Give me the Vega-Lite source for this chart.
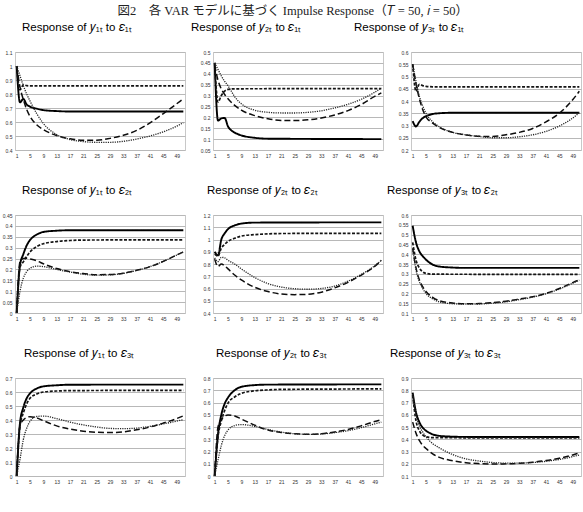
{
  "$schema": "https://vega.github.io/schema/vega-lite/v6.json",
  "padding": {"left": 1, "top": 4, "right": 0, "bottom": 0},
  "bounds": "flush",
  "title": {
    "text": "図2　各 VAR モデルに基づく Impulse Response（𝑇 = 50, 𝑖 = 50）",
    "font": "Liberation Serif, Noto Sans CJK JP",
    "fontSize": 12.5,
    "fontWeight": "normal",
    "color": "#222222",
    "anchor": "middle",
    "frame": "bounds",
    "offset": 4
  },
  "config": {
    "view": {"stroke": "#c8c8c8", "strokeWidth": 1},
    "axis": {
      "labelFont": "Liberation Sans",
      "labelFontSize": 5,
      "labelColor": "#333333",
      "ticks": false,
      "domain": false,
      "title": null,
      "labelPadding": 3
    },
    "axisX": {"grid": false},
    "axisY": {"grid": true, "gridColor": "#b8b8b8", "gridWidth": 1},
    "title": {
      "font": "Liberation Sans",
      "fontSize": 11.5,
      "fontWeight": "normal",
      "color": "#000000",
      "anchor": "start",
      "frame": "group",
      "offset": 17
    },
    "line": {"interpolate": "monotone"}
  },
  "resolve": {"scale": {"x": "independent", "y": "independent"}},
  "spacing": {"row": 65, "column": 28},
  "columns": 3,
  "data": {
    "values": [
      {"p":"11","s":"A","t":1,"v":1.0},{"p":"11","s":"A","t":2,"v":0.74},{"p":"11","s":"A","t":3,"v":0.765},{"p":"11","s":"A","t":4,"v":0.725},{"p":"11","s":"A","t":5,"v":0.71},{"p":"11","s":"A","t":7,"v":0.695},{"p":"11","s":"A","t":9,"v":0.685},{"p":"11","s":"A","t":13,"v":0.678},{"p":"11","s":"A","t":17,"v":0.675},{"p":"11","s":"A","t":51,"v":0.675},
      {"p":"11","s":"B","t":1,"v":1.0},{"p":"11","s":"B","t":2,"v":0.83},{"p":"11","s":"B","t":3,"v":0.865},{"p":"11","s":"B","t":4,"v":0.86},{"p":"11","s":"B","t":5,"v":0.858},{"p":"11","s":"B","t":51,"v":0.858},
      {"p":"11","s":"C","t":1,"v":1.0},{"p":"11","s":"C","t":2,"v":0.85},{"p":"11","s":"C","t":3,"v":0.76},{"p":"11","s":"C","t":4,"v":0.69},{"p":"11","s":"C","t":5,"v":0.64},{"p":"11","s":"C","t":7,"v":0.58},{"p":"11","s":"C","t":9,"v":0.546},{"p":"11","s":"C","t":13,"v":0.503},{"p":"11","s":"C","t":17,"v":0.48},{"p":"11","s":"C","t":21,"v":0.47},{"p":"11","s":"C","t":25,"v":0.47},{"p":"11","s":"C","t":29,"v":0.483},{"p":"11","s":"C","t":33,"v":0.505},{"p":"11","s":"C","t":37,"v":0.54},{"p":"11","s":"C","t":41,"v":0.594},{"p":"11","s":"C","t":45,"v":0.66},{"p":"11","s":"C","t":49,"v":0.73},{"p":"11","s":"C","t":51,"v":0.765},
      {"p":"11","s":"D","t":1,"v":1.0},{"p":"11","s":"D","t":2,"v":0.93},{"p":"11","s":"D","t":3,"v":0.86},{"p":"11","s":"D","t":4,"v":0.8},{"p":"11","s":"D","t":5,"v":0.75},{"p":"11","s":"D","t":7,"v":0.66},{"p":"11","s":"D","t":9,"v":0.59},{"p":"11","s":"D","t":13,"v":0.51},{"p":"11","s":"D","t":17,"v":0.475},{"p":"11","s":"D","t":21,"v":0.46},{"p":"11","s":"D","t":25,"v":0.455},{"p":"11","s":"D","t":29,"v":0.455},{"p":"11","s":"D","t":33,"v":0.462},{"p":"11","s":"D","t":37,"v":0.478},{"p":"11","s":"D","t":41,"v":0.5},{"p":"11","s":"D","t":45,"v":0.53},{"p":"11","s":"D","t":49,"v":0.57},{"p":"11","s":"D","t":51,"v":0.595},

      {"p":"12","s":"A","t":1,"v":0.45},{"p":"12","s":"A","t":2,"v":0.185},{"p":"12","s":"A","t":3,"v":0.195},{"p":"12","s":"A","t":4,"v":0.197},{"p":"12","s":"A","t":5,"v":0.158},{"p":"12","s":"A","t":6,"v":0.14},{"p":"12","s":"A","t":7,"v":0.13},{"p":"12","s":"A","t":9,"v":0.117},{"p":"12","s":"A","t":11,"v":0.11},{"p":"12","s":"A","t":13,"v":0.106},{"p":"12","s":"A","t":17,"v":0.102},{"p":"12","s":"A","t":51,"v":0.1},
      {"p":"12","s":"B","t":1,"v":0.45},{"p":"12","s":"B","t":2,"v":0.27},{"p":"12","s":"B","t":3,"v":0.3},{"p":"12","s":"B","t":4,"v":0.32},{"p":"12","s":"B","t":5,"v":0.328},{"p":"12","s":"B","t":7,"v":0.331},{"p":"12","s":"B","t":51,"v":0.332},
      {"p":"12","s":"C","t":1,"v":0.44},{"p":"12","s":"C","t":2,"v":0.37},{"p":"12","s":"C","t":3,"v":0.33},{"p":"12","s":"C","t":4,"v":0.305},{"p":"12","s":"C","t":5,"v":0.285},{"p":"12","s":"C","t":7,"v":0.255},{"p":"12","s":"C","t":9,"v":0.233},{"p":"12","s":"C","t":13,"v":0.208},{"p":"12","s":"C","t":17,"v":0.193},{"p":"12","s":"C","t":21,"v":0.186},{"p":"12","s":"C","t":25,"v":0.185},{"p":"12","s":"C","t":29,"v":0.189},{"p":"12","s":"C","t":33,"v":0.197},{"p":"12","s":"C","t":37,"v":0.211},{"p":"12","s":"C","t":41,"v":0.231},{"p":"12","s":"C","t":45,"v":0.259},{"p":"12","s":"C","t":49,"v":0.296},{"p":"12","s":"C","t":51,"v":0.312},
      {"p":"12","s":"D","t":1,"v":0.45},{"p":"12","s":"D","t":2,"v":0.42},{"p":"12","s":"D","t":3,"v":0.39},{"p":"12","s":"D","t":4,"v":0.365},{"p":"12","s":"D","t":5,"v":0.345},{"p":"12","s":"D","t":7,"v":0.295},{"p":"12","s":"D","t":9,"v":0.262},{"p":"12","s":"D","t":13,"v":0.233},{"p":"12","s":"D","t":17,"v":0.223},{"p":"12","s":"D","t":21,"v":0.22},{"p":"12","s":"D","t":25,"v":0.22},{"p":"12","s":"D","t":29,"v":0.223},{"p":"12","s":"D","t":33,"v":0.23},{"p":"12","s":"D","t":37,"v":0.243},{"p":"12","s":"D","t":41,"v":0.26},{"p":"12","s":"D","t":45,"v":0.283},{"p":"12","s":"D","t":49,"v":0.315},{"p":"12","s":"D","t":51,"v":0.335},

      {"p":"13","s":"A","t":1,"v":0.318},{"p":"13","s":"A","t":2,"v":0.296},{"p":"13","s":"A","t":3,"v":0.315},{"p":"13","s":"A","t":4,"v":0.33},{"p":"13","s":"A","t":5,"v":0.338},{"p":"13","s":"A","t":7,"v":0.347},{"p":"13","s":"A","t":9,"v":0.35},{"p":"13","s":"A","t":13,"v":0.352},{"p":"13","s":"A","t":51,"v":0.352},
      {"p":"13","s":"B","t":1,"v":0.55},{"p":"13","s":"B","t":2,"v":0.44},{"p":"13","s":"B","t":3,"v":0.468},{"p":"13","s":"B","t":4,"v":0.463},{"p":"13","s":"B","t":5,"v":0.46},{"p":"13","s":"B","t":7,"v":0.458},{"p":"13","s":"B","t":51,"v":0.458},
      {"p":"13","s":"C","t":1,"v":0.55},{"p":"13","s":"C","t":2,"v":0.47},{"p":"13","s":"C","t":3,"v":0.41},{"p":"13","s":"C","t":4,"v":0.365},{"p":"13","s":"C","t":5,"v":0.335},{"p":"13","s":"C","t":7,"v":0.31},{"p":"13","s":"C","t":9,"v":0.292},{"p":"13","s":"C","t":13,"v":0.272},{"p":"13","s":"C","t":17,"v":0.261},{"p":"13","s":"C","t":21,"v":0.256},{"p":"13","s":"C","t":25,"v":0.255},{"p":"13","s":"C","t":29,"v":0.262},{"p":"13","s":"C","t":33,"v":0.272},{"p":"13","s":"C","t":37,"v":0.288},{"p":"13","s":"C","t":41,"v":0.315},{"p":"13","s":"C","t":45,"v":0.35},{"p":"13","s":"C","t":49,"v":0.405},{"p":"13","s":"C","t":51,"v":0.44},
      {"p":"13","s":"D","t":1,"v":0.55},{"p":"13","s":"D","t":2,"v":0.48},{"p":"13","s":"D","t":3,"v":0.42},{"p":"13","s":"D","t":4,"v":0.38},{"p":"13","s":"D","t":5,"v":0.35},{"p":"13","s":"D","t":7,"v":0.315},{"p":"13","s":"D","t":9,"v":0.295},{"p":"13","s":"D","t":13,"v":0.272},{"p":"13","s":"D","t":17,"v":0.262},{"p":"13","s":"D","t":21,"v":0.255},{"p":"13","s":"D","t":25,"v":0.25},{"p":"13","s":"D","t":29,"v":0.25},{"p":"13","s":"D","t":33,"v":0.254},{"p":"13","s":"D","t":37,"v":0.262},{"p":"13","s":"D","t":41,"v":0.276},{"p":"13","s":"D","t":45,"v":0.298},{"p":"13","s":"D","t":49,"v":0.33},{"p":"13","s":"D","t":51,"v":0.352},

      {"p":"21","s":"A","t":1,"v":0},{"p":"21","s":"A","t":2,"v":0.22},{"p":"21","s":"A","t":3,"v":0.27},{"p":"21","s":"A","t":4,"v":0.31},{"p":"21","s":"A","t":5,"v":0.335},{"p":"21","s":"A","t":6,"v":0.35},{"p":"21","s":"A","t":7,"v":0.36},{"p":"21","s":"A","t":9,"v":0.372},{"p":"21","s":"A","t":13,"v":0.378},{"p":"21","s":"A","t":17,"v":0.38},{"p":"21","s":"A","t":51,"v":0.38},
      {"p":"21","s":"B","t":1,"v":0},{"p":"21","s":"B","t":2,"v":0.21},{"p":"21","s":"B","t":3,"v":0.235},{"p":"21","s":"B","t":4,"v":0.26},{"p":"21","s":"B","t":5,"v":0.28},{"p":"21","s":"B","t":7,"v":0.305},{"p":"21","s":"B","t":9,"v":0.318},{"p":"21","s":"B","t":13,"v":0.328},{"p":"21","s":"B","t":17,"v":0.333},{"p":"21","s":"B","t":21,"v":0.335},{"p":"21","s":"B","t":51,"v":0.336},
      {"p":"21","s":"C","t":1,"v":0},{"p":"21","s":"C","t":2,"v":0.235},{"p":"21","s":"C","t":3,"v":0.25},{"p":"21","s":"C","t":4,"v":0.251},{"p":"21","s":"C","t":5,"v":0.248},{"p":"21","s":"C","t":7,"v":0.24},{"p":"21","s":"C","t":9,"v":0.226},{"p":"21","s":"C","t":13,"v":0.204},{"p":"21","s":"C","t":17,"v":0.19},{"p":"21","s":"C","t":21,"v":0.181},{"p":"21","s":"C","t":25,"v":0.176},{"p":"21","s":"C","t":29,"v":0.177},{"p":"21","s":"C","t":33,"v":0.183},{"p":"21","s":"C","t":37,"v":0.196},{"p":"21","s":"C","t":41,"v":0.213},{"p":"21","s":"C","t":45,"v":0.237},{"p":"21","s":"C","t":49,"v":0.266},{"p":"21","s":"C","t":51,"v":0.28},
      {"p":"21","s":"D","t":1,"v":0},{"p":"21","s":"D","t":2,"v":0.1},{"p":"21","s":"D","t":3,"v":0.16},{"p":"21","s":"D","t":4,"v":0.19},{"p":"21","s":"D","t":5,"v":0.205},{"p":"21","s":"D","t":7,"v":0.215},{"p":"21","s":"D","t":9,"v":0.213},{"p":"21","s":"D","t":13,"v":0.2},{"p":"21","s":"D","t":17,"v":0.188},{"p":"21","s":"D","t":21,"v":0.178},{"p":"21","s":"D","t":25,"v":0.174},{"p":"21","s":"D","t":29,"v":0.175},{"p":"21","s":"D","t":33,"v":0.182},{"p":"21","s":"D","t":37,"v":0.195},{"p":"21","s":"D","t":41,"v":0.213},{"p":"21","s":"D","t":45,"v":0.237},{"p":"21","s":"D","t":49,"v":0.266},{"p":"21","s":"D","t":51,"v":0.28},

      {"p":"22","s":"A","t":1,"v":0.9},{"p":"22","s":"A","t":2,"v":0.87},{"p":"22","s":"A","t":3,"v":1.0},{"p":"22","s":"A","t":4,"v":1.05},{"p":"22","s":"A","t":5,"v":1.085},{"p":"22","s":"A","t":7,"v":1.115},{"p":"22","s":"A","t":9,"v":1.13},{"p":"22","s":"A","t":13,"v":1.138},{"p":"22","s":"A","t":51,"v":1.14},
      {"p":"22","s":"B","t":1,"v":0.88},{"p":"22","s":"B","t":2,"v":0.865},{"p":"22","s":"B","t":3,"v":0.93},{"p":"22","s":"B","t":4,"v":0.96},{"p":"22","s":"B","t":5,"v":0.985},{"p":"22","s":"B","t":7,"v":1.01},{"p":"22","s":"B","t":9,"v":1.028},{"p":"22","s":"B","t":13,"v":1.04},{"p":"22","s":"B","t":17,"v":1.046},{"p":"22","s":"B","t":21,"v":1.049},{"p":"22","s":"B","t":51,"v":1.05},
      {"p":"22","s":"C","t":1,"v":0.84},{"p":"22","s":"C","t":2,"v":0.78},{"p":"22","s":"C","t":3,"v":0.8},{"p":"22","s":"C","t":4,"v":0.785},{"p":"22","s":"C","t":5,"v":0.76},{"p":"22","s":"C","t":7,"v":0.71},{"p":"22","s":"C","t":9,"v":0.67},{"p":"22","s":"C","t":13,"v":0.61},{"p":"22","s":"C","t":17,"v":0.575},{"p":"22","s":"C","t":21,"v":0.555},{"p":"22","s":"C","t":25,"v":0.55},{"p":"22","s":"C","t":29,"v":0.553},{"p":"22","s":"C","t":33,"v":0.57},{"p":"22","s":"C","t":37,"v":0.605},{"p":"22","s":"C","t":41,"v":0.65},{"p":"22","s":"C","t":45,"v":0.71},{"p":"22","s":"C","t":49,"v":0.78},{"p":"22","s":"C","t":51,"v":0.83},
      {"p":"22","s":"D","t":1,"v":0.85},{"p":"22","s":"D","t":2,"v":0.82},{"p":"22","s":"D","t":3,"v":0.855},{"p":"22","s":"D","t":4,"v":0.85},{"p":"22","s":"D","t":5,"v":0.83},{"p":"22","s":"D","t":7,"v":0.8},{"p":"22","s":"D","t":9,"v":0.76},{"p":"22","s":"D","t":13,"v":0.69},{"p":"22","s":"D","t":17,"v":0.64},{"p":"22","s":"D","t":21,"v":0.612},{"p":"22","s":"D","t":25,"v":0.598},{"p":"22","s":"D","t":29,"v":0.594},{"p":"22","s":"D","t":33,"v":0.6},{"p":"22","s":"D","t":37,"v":0.62},{"p":"22","s":"D","t":41,"v":0.66},{"p":"22","s":"D","t":45,"v":0.715},{"p":"22","s":"D","t":49,"v":0.785},{"p":"22","s":"D","t":51,"v":0.83},

      {"p":"23","s":"A","t":1,"v":0.545},{"p":"23","s":"A","t":2,"v":0.46},{"p":"23","s":"A","t":3,"v":0.415},{"p":"23","s":"A","t":4,"v":0.39},{"p":"23","s":"A","t":5,"v":0.372},{"p":"23","s":"A","t":7,"v":0.347},{"p":"23","s":"A","t":9,"v":0.337},{"p":"23","s":"A","t":13,"v":0.332},{"p":"23","s":"A","t":17,"v":0.33},{"p":"23","s":"A","t":51,"v":0.33},
      {"p":"23","s":"B","t":1,"v":0.46},{"p":"23","s":"B","t":2,"v":0.37},{"p":"23","s":"B","t":3,"v":0.33},{"p":"23","s":"B","t":4,"v":0.31},{"p":"23","s":"B","t":5,"v":0.302},{"p":"23","s":"B","t":7,"v":0.298},{"p":"23","s":"B","t":51,"v":0.297},
      {"p":"23","s":"C","t":1,"v":0.43},{"p":"23","s":"C","t":2,"v":0.33},{"p":"23","s":"C","t":3,"v":0.27},{"p":"23","s":"C","t":4,"v":0.234},{"p":"23","s":"C","t":5,"v":0.21},{"p":"23","s":"C","t":7,"v":0.18},{"p":"23","s":"C","t":9,"v":0.163},{"p":"23","s":"C","t":13,"v":0.151},{"p":"23","s":"C","t":17,"v":0.147},{"p":"23","s":"C","t":21,"v":0.148},{"p":"23","s":"C","t":25,"v":0.153},{"p":"23","s":"C","t":29,"v":0.16},{"p":"23","s":"C","t":33,"v":0.171},{"p":"23","s":"C","t":37,"v":0.183},{"p":"23","s":"C","t":41,"v":0.2},{"p":"23","s":"C","t":45,"v":0.225},{"p":"23","s":"C","t":49,"v":0.255},{"p":"23","s":"C","t":51,"v":0.27},
      {"p":"23","s":"D","t":1,"v":0.43},{"p":"23","s":"D","t":2,"v":0.32},{"p":"23","s":"D","t":3,"v":0.26},{"p":"23","s":"D","t":4,"v":0.225},{"p":"23","s":"D","t":5,"v":0.2},{"p":"23","s":"D","t":7,"v":0.172},{"p":"23","s":"D","t":9,"v":0.157},{"p":"23","s":"D","t":13,"v":0.147},{"p":"23","s":"D","t":17,"v":0.145},{"p":"23","s":"D","t":21,"v":0.146},{"p":"23","s":"D","t":25,"v":0.15},{"p":"23","s":"D","t":29,"v":0.157},{"p":"23","s":"D","t":33,"v":0.168},{"p":"23","s":"D","t":37,"v":0.181},{"p":"23","s":"D","t":41,"v":0.198},{"p":"23","s":"D","t":45,"v":0.222},{"p":"23","s":"D","t":49,"v":0.252},{"p":"23","s":"D","t":51,"v":0.268},

      {"p":"31","s":"A","t":1,"v":0},{"p":"31","s":"A","t":2,"v":0.38},{"p":"31","s":"A","t":3,"v":0.49},{"p":"31","s":"A","t":4,"v":0.555},{"p":"31","s":"A","t":5,"v":0.59},{"p":"31","s":"A","t":7,"v":0.625},{"p":"31","s":"A","t":9,"v":0.64},{"p":"31","s":"A","t":13,"v":0.648},{"p":"31","s":"A","t":17,"v":0.652},{"p":"31","s":"A","t":51,"v":0.653},
      {"p":"31","s":"B","t":1,"v":0},{"p":"31","s":"B","t":2,"v":0.36},{"p":"31","s":"B","t":3,"v":0.45},{"p":"31","s":"B","t":4,"v":0.515},{"p":"31","s":"B","t":5,"v":0.555},{"p":"31","s":"B","t":7,"v":0.585},{"p":"31","s":"B","t":9,"v":0.6},{"p":"31","s":"B","t":13,"v":0.607},{"p":"31","s":"B","t":17,"v":0.61},{"p":"31","s":"B","t":51,"v":0.612},
      {"p":"31","s":"C","t":1,"v":0},{"p":"31","s":"C","t":2,"v":0.36},{"p":"31","s":"C","t":3,"v":0.4},{"p":"31","s":"C","t":4,"v":0.418},{"p":"31","s":"C","t":5,"v":0.424},{"p":"31","s":"C","t":7,"v":0.415},{"p":"31","s":"C","t":9,"v":0.395},{"p":"31","s":"C","t":13,"v":0.358},{"p":"31","s":"C","t":17,"v":0.335},{"p":"31","s":"C","t":21,"v":0.32},{"p":"31","s":"C","t":25,"v":0.312},{"p":"31","s":"C","t":29,"v":0.31},{"p":"31","s":"C","t":33,"v":0.315},{"p":"31","s":"C","t":37,"v":0.33},{"p":"31","s":"C","t":41,"v":0.35},{"p":"31","s":"C","t":45,"v":0.378},{"p":"31","s":"C","t":49,"v":0.41},{"p":"31","s":"C","t":51,"v":0.43},
      {"p":"31","s":"D","t":1,"v":0},{"p":"31","s":"D","t":2,"v":0.12},{"p":"31","s":"D","t":3,"v":0.26},{"p":"31","s":"D","t":4,"v":0.34},{"p":"31","s":"D","t":5,"v":0.39},{"p":"31","s":"D","t":7,"v":0.425},{"p":"31","s":"D","t":9,"v":0.428},{"p":"31","s":"D","t":13,"v":0.41},{"p":"31","s":"D","t":17,"v":0.385},{"p":"31","s":"D","t":21,"v":0.365},{"p":"31","s":"D","t":25,"v":0.35},{"p":"31","s":"D","t":29,"v":0.34},{"p":"31","s":"D","t":33,"v":0.338},{"p":"31","s":"D","t":37,"v":0.342},{"p":"31","s":"D","t":41,"v":0.355},{"p":"31","s":"D","t":45,"v":0.372},{"p":"31","s":"D","t":49,"v":0.392},{"p":"31","s":"D","t":51,"v":0.402},

      {"p":"32","s":"A","t":1,"v":0},{"p":"32","s":"A","t":2,"v":0.34},{"p":"32","s":"A","t":3,"v":0.5},{"p":"32","s":"A","t":4,"v":0.59},{"p":"32","s":"A","t":5,"v":0.64},{"p":"32","s":"A","t":7,"v":0.7},{"p":"32","s":"A","t":9,"v":0.728},{"p":"32","s":"A","t":13,"v":0.742},{"p":"32","s":"A","t":17,"v":0.746},{"p":"32","s":"A","t":51,"v":0.748},
      {"p":"32","s":"B","t":1,"v":0},{"p":"32","s":"B","t":2,"v":0.32},{"p":"32","s":"B","t":3,"v":0.45},{"p":"32","s":"B","t":4,"v":0.535},{"p":"32","s":"B","t":5,"v":0.595},{"p":"32","s":"B","t":7,"v":0.645},{"p":"32","s":"B","t":9,"v":0.675},{"p":"32","s":"B","t":13,"v":0.695},{"p":"32","s":"B","t":17,"v":0.703},{"p":"32","s":"B","t":21,"v":0.707},{"p":"32","s":"B","t":51,"v":0.711},
      {"p":"32","s":"C","t":1,"v":0},{"p":"32","s":"C","t":2,"v":0.4},{"p":"32","s":"C","t":3,"v":0.46},{"p":"32","s":"C","t":4,"v":0.488},{"p":"32","s":"C","t":5,"v":0.498},{"p":"32","s":"C","t":7,"v":0.49},{"p":"32","s":"C","t":9,"v":0.465},{"p":"32","s":"C","t":13,"v":0.415},{"p":"32","s":"C","t":17,"v":0.375},{"p":"32","s":"C","t":21,"v":0.355},{"p":"32","s":"C","t":25,"v":0.345},{"p":"32","s":"C","t":29,"v":0.34},{"p":"32","s":"C","t":33,"v":0.345},{"p":"32","s":"C","t":37,"v":0.36},{"p":"32","s":"C","t":41,"v":0.38},{"p":"32","s":"C","t":45,"v":0.41},{"p":"32","s":"C","t":49,"v":0.445},{"p":"32","s":"C","t":51,"v":0.46},
      {"p":"32","s":"D","t":1,"v":0},{"p":"32","s":"D","t":2,"v":0.13},{"p":"32","s":"D","t":3,"v":0.25},{"p":"32","s":"D","t":4,"v":0.33},{"p":"32","s":"D","t":5,"v":0.375},{"p":"32","s":"D","t":7,"v":0.412},{"p":"32","s":"D","t":9,"v":0.42},{"p":"32","s":"D","t":13,"v":0.405},{"p":"32","s":"D","t":17,"v":0.38},{"p":"32","s":"D","t":21,"v":0.358},{"p":"32","s":"D","t":25,"v":0.345},{"p":"32","s":"D","t":29,"v":0.34},{"p":"32","s":"D","t":33,"v":0.343},{"p":"32","s":"D","t":37,"v":0.354},{"p":"32","s":"D","t":41,"v":0.37},{"p":"32","s":"D","t":45,"v":0.395},{"p":"32","s":"D","t":49,"v":0.425},{"p":"32","s":"D","t":51,"v":0.44},

      {"p":"33","s":"A","t":1,"v":0.78},{"p":"33","s":"A","t":2,"v":0.62},{"p":"33","s":"A","t":3,"v":0.54},{"p":"33","s":"A","t":4,"v":0.495},{"p":"33","s":"A","t":5,"v":0.47},{"p":"33","s":"A","t":7,"v":0.44},{"p":"33","s":"A","t":9,"v":0.428},{"p":"33","s":"A","t":13,"v":0.421},{"p":"33","s":"A","t":17,"v":0.419},{"p":"33","s":"A","t":51,"v":0.418},
      {"p":"33","s":"B","t":1,"v":0.76},{"p":"33","s":"B","t":2,"v":0.55},{"p":"33","s":"B","t":3,"v":0.47},{"p":"33","s":"B","t":4,"v":0.435},{"p":"33","s":"B","t":5,"v":0.42},{"p":"33","s":"B","t":7,"v":0.413},{"p":"33","s":"B","t":51,"v":0.41},
      {"p":"33","s":"C","t":1,"v":0.54},{"p":"33","s":"C","t":2,"v":0.45},{"p":"33","s":"C","t":3,"v":0.39},{"p":"33","s":"C","t":4,"v":0.35},{"p":"33","s":"C","t":5,"v":0.325},{"p":"33","s":"C","t":7,"v":0.28},{"p":"33","s":"C","t":9,"v":0.252},{"p":"33","s":"C","t":13,"v":0.225},{"p":"33","s":"C","t":17,"v":0.208},{"p":"33","s":"C","t":21,"v":0.201},{"p":"33","s":"C","t":25,"v":0.198},{"p":"33","s":"C","t":29,"v":0.199},{"p":"33","s":"C","t":33,"v":0.204},{"p":"33","s":"C","t":37,"v":0.213},{"p":"33","s":"C","t":41,"v":0.226},{"p":"33","s":"C","t":45,"v":0.245},{"p":"33","s":"C","t":49,"v":0.272},{"p":"33","s":"C","t":51,"v":0.288},
      {"p":"33","s":"D","t":1,"v":0.77},{"p":"33","s":"D","t":2,"v":0.6},{"p":"33","s":"D","t":3,"v":0.51},{"p":"33","s":"D","t":4,"v":0.46},{"p":"33","s":"D","t":5,"v":0.42},{"p":"33","s":"D","t":7,"v":0.365},{"p":"33","s":"D","t":9,"v":0.33},{"p":"33","s":"D","t":13,"v":0.275},{"p":"33","s":"D","t":17,"v":0.24},{"p":"33","s":"D","t":21,"v":0.222},{"p":"33","s":"D","t":25,"v":0.21},{"p":"33","s":"D","t":29,"v":0.205},{"p":"33","s":"D","t":33,"v":0.205},{"p":"33","s":"D","t":37,"v":0.21},{"p":"33","s":"D","t":41,"v":0.22},{"p":"33","s":"D","t":45,"v":0.235},{"p":"33","s":"D","t":49,"v":0.258},{"p":"33","s":"D","t":51,"v":0.272}
    ]
  },
  "concat": [
    {
      "width": 170, "height": 98,
      "title": {"text": "Response of  𝑦₁ₜ to  𝜀₁ₜ", "dx": 7},
      "transform": [{"filter": "datum.p == '11'"}],
      "mark": {"type": "line", "interpolate": "monotone"},
      "encoding": {
        "x": {"field": "t", "type": "quantitative", "scale": {"domain": [0.5, 51.5], "nice": false}, "axis": {"values": [1,5,9,13,17,21,25,29,33,37,41,45,49], "format": "d"}},
        "y": {"field": "v", "type": "quantitative", "scale": {"domain": [0.4, 1.1], "nice": false, "zero": false}, "axis": {"values": [0.4,0.5,0.6,0.7,0.8,0.9,1.0,1.1], "format": ".2~f"}},
        "detail": {"field": "s"},
        "color": {"field": "s", "type": "nominal", "legend": null, "scale": {"domain": ["A","B","C","D"], "range": ["#000000","#141414","#0d0d0d","#262626"]}},
        "strokeDash": {"field": "s", "type": "nominal", "legend": null, "scale": {"domain": ["A","B","C","D"], "range": [[1,0],[3,1.6],[6,3],[1.2,1.1]]}},
        "strokeWidth": {"field": "s", "type": "nominal", "legend": null, "scale": {"domain": ["A","B","C","D"], "range": [1.9,1.3,1.8,1.4]}}
      }
    },
    {
      "width": 170, "height": 98,
      "title": {"text": "Response of  𝑦₂ₜ to  𝜀₁ₜ", "dx": -22},
      "transform": [{"filter": "datum.p == '12'"}],
      "mark": {"type": "line", "interpolate": "monotone"},
      "encoding": {
        "x": {"field": "t", "type": "quantitative", "scale": {"domain": [0.5, 51.5], "nice": false}, "axis": {"values": [1,5,9,13,17,21,25,29,33,37,41,45,49], "format": "d"}},
        "y": {"field": "v", "type": "quantitative", "scale": {"domain": [0.05, 0.5], "nice": false, "zero": false}, "axis": {"values": [0.05,0.1,0.15,0.2,0.25,0.3,0.35,0.4,0.45,0.5], "format": ".2~f"}},
        "detail": {"field": "s"},
        "color": {"field": "s", "type": "nominal", "legend": null, "scale": {"domain": ["A","B","C","D"], "range": ["#000000","#141414","#0d0d0d","#262626"]}},
        "strokeDash": {"field": "s", "type": "nominal", "legend": null, "scale": {"domain": ["A","B","C","D"], "range": [[1,0],[3,1.6],[6,3],[1.2,1.1]]}},
        "strokeWidth": {"field": "s", "type": "nominal", "legend": null, "scale": {"domain": ["A","B","C","D"], "range": [1.9,1.3,1.8,1.4]}}
      }
    },
    {
      "width": 170, "height": 98,
      "title": {"text": "Response of  𝑦₃ₜ to  𝜀₁ₜ", "dx": -57},
      "transform": [{"filter": "datum.p == '13'"}],
      "mark": {"type": "line", "interpolate": "monotone"},
      "encoding": {
        "x": {"field": "t", "type": "quantitative", "scale": {"domain": [0.5, 51.5], "nice": false}, "axis": {"values": [1,5,9,13,17,21,25,29,33,37,41,45,49], "format": "d"}},
        "y": {"field": "v", "type": "quantitative", "scale": {"domain": [0.2, 0.6], "nice": false, "zero": false}, "axis": {"values": [0.2,0.25,0.3,0.35,0.4,0.45,0.5,0.55,0.6], "format": ".2~f"}},
        "detail": {"field": "s"},
        "color": {"field": "s", "type": "nominal", "legend": null, "scale": {"domain": ["A","B","C","D"], "range": ["#000000","#141414","#0d0d0d","#262626"]}},
        "strokeDash": {"field": "s", "type": "nominal", "legend": null, "scale": {"domain": ["A","B","C","D"], "range": [[1,0],[3,1.6],[6,3],[1.2,1.1]]}},
        "strokeWidth": {"field": "s", "type": "nominal", "legend": null, "scale": {"domain": ["A","B","C","D"], "range": [1.9,1.3,1.8,1.4]}}
      }
    },
    {
      "width": 170, "height": 98,
      "title": {"text": "Response of  𝑦₁ₜ to  𝜀₂ₜ", "dx": 7},
      "transform": [{"filter": "datum.p == '21'"}],
      "mark": {"type": "line", "interpolate": "monotone"},
      "encoding": {
        "x": {"field": "t", "type": "quantitative", "scale": {"domain": [0.5, 51.5], "nice": false}, "axis": {"values": [1,5,9,13,17,21,25,29,33,37,41,45,49], "format": "d"}},
        "y": {"field": "v", "type": "quantitative", "scale": {"domain": [0, 0.45], "nice": false, "zero": false}, "axis": {"values": [0,0.05,0.1,0.15,0.2,0.25,0.3,0.35,0.4,0.45], "format": ".2~f"}},
        "detail": {"field": "s"},
        "color": {"field": "s", "type": "nominal", "legend": null, "scale": {"domain": ["A","B","C","D"], "range": ["#000000","#141414","#0d0d0d","#262626"]}},
        "strokeDash": {"field": "s", "type": "nominal", "legend": null, "scale": {"domain": ["A","B","C","D"], "range": [[1,0],[3,1.6],[6,3],[1.2,1.1]]}},
        "strokeWidth": {"field": "s", "type": "nominal", "legend": null, "scale": {"domain": ["A","B","C","D"], "range": [1.9,1.3,1.8,1.4]}}
      }
    },
    {
      "width": 170, "height": 98,
      "title": {"text": "Response of  𝑦₂ₜ to  𝜀₂ₜ", "dx": -6},
      "transform": [{"filter": "datum.p == '22'"}],
      "mark": {"type": "line", "interpolate": "monotone"},
      "encoding": {
        "x": {"field": "t", "type": "quantitative", "scale": {"domain": [0.5, 51.5], "nice": false}, "axis": {"values": [1,5,9,13,17,21,25,29,33,37,41,45,49], "format": "d"}},
        "y": {"field": "v", "type": "quantitative", "scale": {"domain": [0.4, 1.2], "nice": false, "zero": false}, "axis": {"values": [0.4,0.5,0.6,0.7,0.8,0.9,1.0,1.1,1.2], "format": ".2~f"}},
        "detail": {"field": "s"},
        "color": {"field": "s", "type": "nominal", "legend": null, "scale": {"domain": ["A","B","C","D"], "range": ["#000000","#141414","#0d0d0d","#262626"]}},
        "strokeDash": {"field": "s", "type": "nominal", "legend": null, "scale": {"domain": ["A","B","C","D"], "range": [[1,0],[3,1.6],[6,3],[1.2,1.1]]}},
        "strokeWidth": {"field": "s", "type": "nominal", "legend": null, "scale": {"domain": ["A","B","C","D"], "range": [1.9,1.3,1.8,1.4]}}
      }
    },
    {
      "width": 170, "height": 98,
      "title": {"text": "Response of  𝑦₃ₜ to  𝜀₂ₜ", "dx": -24},
      "transform": [{"filter": "datum.p == '23'"}],
      "mark": {"type": "line", "interpolate": "monotone"},
      "encoding": {
        "x": {"field": "t", "type": "quantitative", "scale": {"domain": [0.5, 51.5], "nice": false}, "axis": {"values": [1,5,9,13,17,21,25,29,33,37,41,45,49], "format": "d"}},
        "y": {"field": "v", "type": "quantitative", "scale": {"domain": [0.1, 0.6], "nice": false, "zero": false}, "axis": {"values": [0.1,0.15,0.2,0.25,0.3,0.35,0.4,0.45,0.5,0.55,0.6], "format": ".2~f"}},
        "detail": {"field": "s"},
        "color": {"field": "s", "type": "nominal", "legend": null, "scale": {"domain": ["A","B","C","D"], "range": ["#000000","#141414","#0d0d0d","#262626"]}},
        "strokeDash": {"field": "s", "type": "nominal", "legend": null, "scale": {"domain": ["A","B","C","D"], "range": [[1,0],[3,1.6],[6,3],[1.2,1.1]]}},
        "strokeWidth": {"field": "s", "type": "nominal", "legend": null, "scale": {"domain": ["A","B","C","D"], "range": [1.9,1.3,1.8,1.4]}}
      }
    },
    {
      "width": 170, "height": 98,
      "title": {"text": "Response of  𝑦₁ₜ to  𝜀₃ₜ", "dx": 9},
      "transform": [{"filter": "datum.p == '31'"}],
      "mark": {"type": "line", "interpolate": "monotone"},
      "encoding": {
        "x": {"field": "t", "type": "quantitative", "scale": {"domain": [0.5, 51.5], "nice": false}, "axis": {"values": [1,5,9,13,17,21,25,29,33,37,41,45,49], "format": "d"}},
        "y": {"field": "v", "type": "quantitative", "scale": {"domain": [0, 0.7], "nice": false, "zero": false}, "axis": {"values": [0,0.1,0.2,0.3,0.4,0.5,0.6,0.7], "format": ".2~f"}},
        "detail": {"field": "s"},
        "color": {"field": "s", "type": "nominal", "legend": null, "scale": {"domain": ["A","B","C","D"], "range": ["#000000","#141414","#0d0d0d","#262626"]}},
        "strokeDash": {"field": "s", "type": "nominal", "legend": null, "scale": {"domain": ["A","B","C","D"], "range": [[1,0],[3,1.6],[6,3],[1.2,1.1]]}},
        "strokeWidth": {"field": "s", "type": "nominal", "legend": null, "scale": {"domain": ["A","B","C","D"], "range": [1.9,1.3,1.8,1.4]}}
      }
    },
    {
      "width": 170, "height": 98,
      "title": {"text": "Response of  𝑦₂ₜ to  𝜀₃ₜ", "dx": 3},
      "transform": [{"filter": "datum.p == '32'"}],
      "mark": {"type": "line", "interpolate": "monotone"},
      "encoding": {
        "x": {"field": "t", "type": "quantitative", "scale": {"domain": [0.5, 51.5], "nice": false}, "axis": {"values": [1,5,9,13,17,21,25,29,33,37,41,45,49], "format": "d"}},
        "y": {"field": "v", "type": "quantitative", "scale": {"domain": [0, 0.8], "nice": false, "zero": false}, "axis": {"values": [0,0.1,0.2,0.3,0.4,0.5,0.6,0.7,0.8], "format": ".2~f"}},
        "detail": {"field": "s"},
        "color": {"field": "s", "type": "nominal", "legend": null, "scale": {"domain": ["A","B","C","D"], "range": ["#000000","#141414","#0d0d0d","#262626"]}},
        "strokeDash": {"field": "s", "type": "nominal", "legend": null, "scale": {"domain": ["A","B","C","D"], "range": [[1,0],[3,1.6],[6,3],[1.2,1.1]]}},
        "strokeWidth": {"field": "s", "type": "nominal", "legend": null, "scale": {"domain": ["A","B","C","D"], "range": [1.9,1.3,1.8,1.4]}}
      }
    },
    {
      "width": 170, "height": 98,
      "title": {"text": "Response of  𝑦₃ₜ to  𝜀₃ₜ", "dx": -21},
      "transform": [{"filter": "datum.p == '33'"}],
      "mark": {"type": "line", "interpolate": "monotone"},
      "encoding": {
        "x": {"field": "t", "type": "quantitative", "scale": {"domain": [0.5, 51.5], "nice": false}, "axis": {"values": [1,5,9,13,17,21,25,29,33,37,41,45,49], "format": "d"}},
        "y": {"field": "v", "type": "quantitative", "scale": {"domain": [0.1, 0.9], "nice": false, "zero": false}, "axis": {"values": [0.1,0.2,0.3,0.4,0.5,0.6,0.7,0.8,0.9], "format": ".2~f"}},
        "detail": {"field": "s"},
        "color": {"field": "s", "type": "nominal", "legend": null, "scale": {"domain": ["A","B","C","D"], "range": ["#000000","#141414","#0d0d0d","#262626"]}},
        "strokeDash": {"field": "s", "type": "nominal", "legend": null, "scale": {"domain": ["A","B","C","D"], "range": [[1,0],[3,1.6],[6,3],[1.2,1.1]]}},
        "strokeWidth": {"field": "s", "type": "nominal", "legend": null, "scale": {"domain": ["A","B","C","D"], "range": [1.9,1.3,1.8,1.4]}}
      }
    }
  ]
}
